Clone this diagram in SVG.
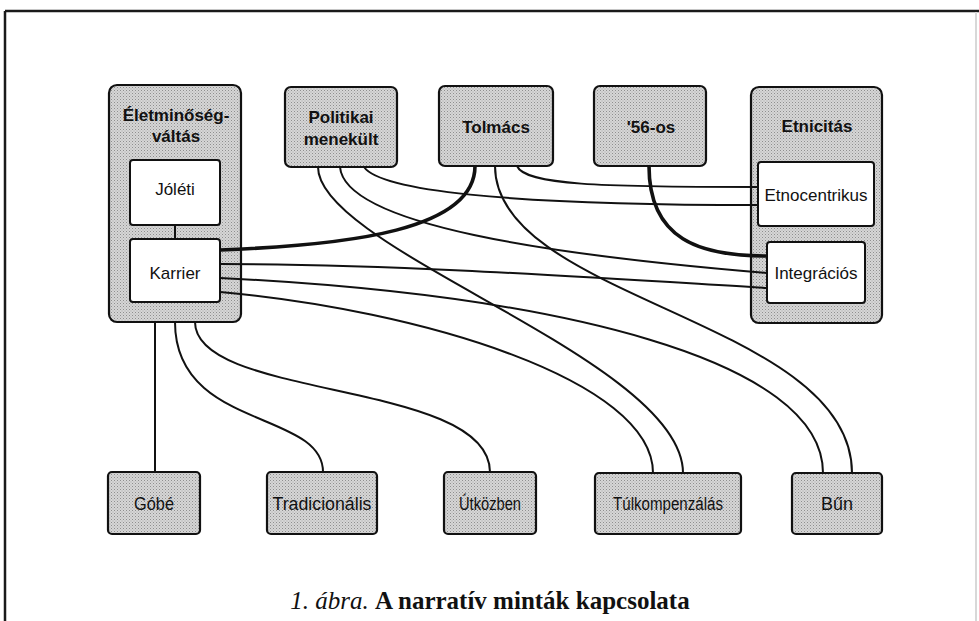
<svg xmlns="http://www.w3.org/2000/svg" width="979" height="621" viewBox="0 0 979 621">
<defs>
<pattern id="stip" width="3" height="3" patternUnits="userSpaceOnUse">
<rect width="3" height="3" fill="#d6d6d6"/>
<rect x="0" y="0" width="1" height="1" fill="#8e8e8e"/>
<rect x="1.5" y="1.5" width="1" height="1" fill="#a8a8a8"/>
</pattern>
<style>
.frame{fill:none;stroke:#1a1a1a;stroke-width:2.5}
.box{fill:url(#stip);stroke:#111;stroke-width:2.2}
.inner{fill:#fff;stroke:#111;stroke-width:2}
.c{fill:none;stroke:#111;stroke-width:2}
.thick{fill:none;stroke:#111;stroke-width:3.6}
.tb{font-family:"Liberation Sans",Arial,sans-serif;font-weight:bold;font-size:17px;fill:#111;text-anchor:middle}
.tr{font-family:"Liberation Sans",Arial,sans-serif;font-size:17px;fill:#111;text-anchor:middle}
.tl{font-family:"Liberation Sans",Arial,sans-serif;font-size:18px;fill:#111;text-anchor:middle}
.cap{font-family:"Liberation Serif","Times New Roman",serif;font-size:25px;fill:#111}
</style>
</defs>
<rect width="979" height="621" fill="#fff"/>
<g id="frame">
<line class="frame" x1="5" y1="11" x2="979" y2="11"/>
<line class="frame" x1="5" y1="11" x2="5" y2="621"/>
<line x1="976" y1="12" x2="976" y2="621" stroke="#d8d8d8" stroke-width="2"/>
</g>
<g id="eletminoseg">
<rect class="box" x="109" y="85" width="132" height="237" rx="8"/>
<text class="tb" x="176" y="121">Életminőség-</text>
<text class="tb" x="176" y="142">váltás</text>
</g>
<g id="joleti">
<rect class="inner" x="130" y="160" width="90" height="65" rx="3"/>
<text class="tr" x="175" y="195">Jóléti</text>
</g>
<g id="karrier">
<rect class="inner" x="130" y="239" width="90" height="63" rx="3"/>
<text class="tr" x="175" y="279">Karrier</text>
</g>
<g id="politikai">
<rect class="box" x="285" y="87" width="112" height="80" rx="6"/>
<text class="tb" x="341" y="123">Politikai</text>
<text class="tb" x="341" y="145">menekült</text>
</g>
<g id="tolmacs">
<rect class="box" x="439" y="86" width="114" height="80" rx="6"/>
<text class="tb" x="496" y="133">Tolmács</text>
</g>
<g id="os56">
<rect class="box" x="594" y="86" width="112" height="80" rx="6"/>
<text class="tb" x="651" y="133">'56-os</text>
</g>
<g id="etnicitas">
<rect class="box" x="751" y="87" width="131" height="236" rx="8"/>
<text class="tb" x="817" y="132">Etnicitás</text>
</g>
<g id="etnocentrikus">
<rect class="inner" x="758" y="162" width="116" height="64" rx="3"/>
<text class="tr" x="816" y="201">Etnocentrikus</text>
</g>
<g id="integracios">
<rect class="inner" x="767" y="242" width="98" height="61" rx="3"/>
<text class="tr" x="816" y="279">Integrációs</text>
</g>
<g id="gobe">
<rect class="box" x="108" y="472" width="92" height="62" rx="4"/>
<text class="tl" x="154" y="510" textLength="40" lengthAdjust="spacingAndGlyphs">Góbé</text>
</g>
<g id="tradicionalis">
<rect class="box" x="267" y="472" width="110" height="62" rx="4"/>
<text class="tl" x="322" y="510" textLength="99" lengthAdjust="spacingAndGlyphs">Tradicionális</text>
</g>
<g id="utkozben">
<rect class="box" x="444" y="472" width="92" height="62" rx="4"/>
<text class="tl" x="490" y="510" textLength="62" lengthAdjust="spacingAndGlyphs">Útközben</text>
</g>
<g id="tulkompenzalas">
<rect class="box" x="595" y="473" width="146" height="61" rx="4"/>
<text class="tl" x="668" y="510" textLength="110" lengthAdjust="spacingAndGlyphs">Túlkompenzálás</text>
</g>
<g id="bun">
<rect class="box" x="792" y="473" width="90" height="61" rx="4"/>
<text class="tl" x="837" y="510" textLength="32" lengthAdjust="spacingAndGlyphs">Bűn</text>
</g>
<g id="connectors">
<line class="c" x1="175" y1="225" x2="175" y2="239"/>
<line class="c" x1="155" y1="322" x2="155" y2="472"/>
<path class="c" d="M175,322 C175,430 323,410 323,472"/>
<path class="c" d="M195,322 C195,400 490,380 490,472"/>
<path class="thick" d="M220,250 C350,245 475,230 475,166"/>
<path class="c" d="M220,264 C400,264 600,278 767,288"/>
<path class="c" d="M220,278 C560,295 823,360 823,473"/>
<path class="c" d="M220,292 C420,310 653,380 653,473"/>
<path class="c" d="M318,167 C318,250 683,360 683,473"/>
<path class="c" d="M340,167 C345,225 550,255 767,273"/>
<path class="c" d="M364,167 C380,190 500,205 758,205"/>
<path class="c" d="M517,166 C525,185 600,187 758,187"/>
<path class="c" d="M495,166 C495,300 852,320 852,473"/>
<path class="thick" d="M649,166 C649,240 700,256 767,256"/>
</g>
<g id="caption">
<text class="cap" x="490" y="609" text-anchor="middle"><tspan font-style="italic">1. ábra.</tspan> <tspan font-weight="bold">A narratív minták kapcsolata</tspan></text>
</g>
</svg>
